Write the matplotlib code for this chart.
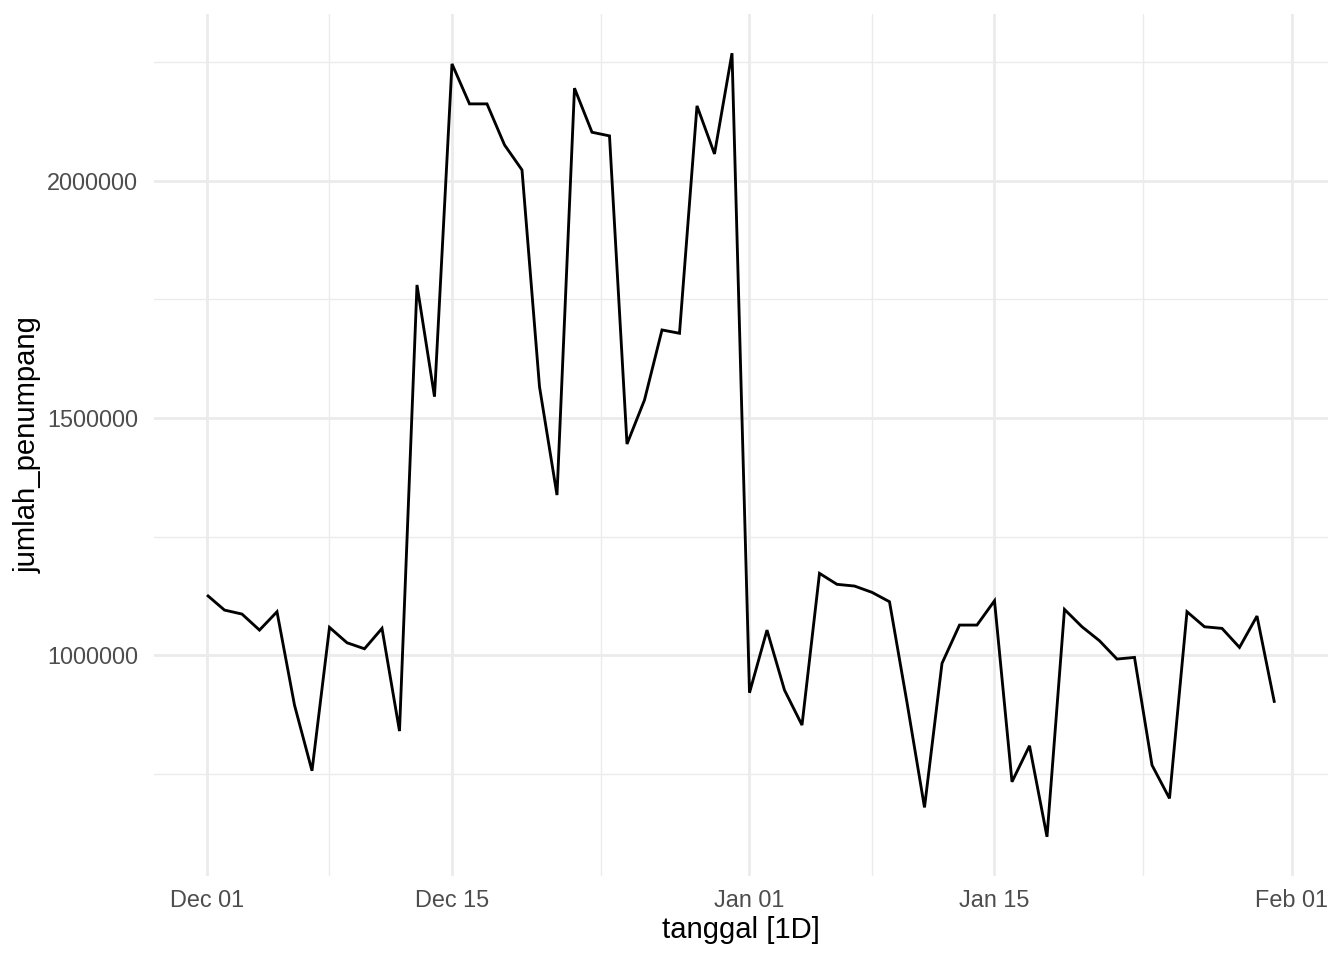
import numpy as np
import matplotlib
matplotlib.use("Agg")
import matplotlib.pyplot as plt
import matplotlib.dates as mdates

plt.rcParams['font.family'] = ['Liberation Sans', 'DejaVu Sans']

start_date = np.datetime64('2022-12-01')
n_days = 62
tanggal = start_date + np.arange(n_days).astype('timedelta64[D]')

jumlah_penumpang = [
    1126600, 1094900, 1086500, 1052700, 1091400, 894500, 756000, 1058400,
    1026000, 1013300, 1056300, 839700, 1780600, 1545000, 2246800, 2162500,
    2162500, 2076000, 2023200, 1566000, 1337500, 2195600, 2102700, 2095000,
    1445100, 1538000, 1685700, 1678700, 2158300, 2057000, 2269400, 920500,
    1052700, 926100, 852300, 1172400, 1149200, 1145600, 1132300, 1112500,
    900000, 678700, 982500, 1063300, 1063300, 1114600, 732700, 808700,
    616700, 1096300, 1059700, 1030200, 991600, 995100, 767900, 697700,
    1091400, 1059700, 1056300, 1016200, 1082300, 899400,
]

x_tick_dates = ['2022-12-01', '2022-12-15', '2023-01-01', '2023-01-15', '2023-02-01']
x_tick_labels = ['Dec 01', 'Dec 15', 'Jan 01', 'Jan 15', 'Feb 01']
y_ticks = [1000000, 1500000, 2000000]
y_tick_labels = ['1000000', '1500000', '2000000']

fig = plt.figure(figsize=(13.44, 9.6), dpi=100)
ax = fig.add_axes([0.1143, 0.0875, 0.988 - 0.1143, 0.9854 - 0.0875])

xd = mdates.date2num(tanggal.astype('datetime64[D]').astype(object))
ax.plot(xd, jumlah_penumpang, color='black', linewidth=2.05, zorder=3,
        solid_joinstyle='miter', solid_capstyle='butt')

# limits with ggplot-like 5% expansion
xmin, xmax = xd.min(), xd.max()
xr = xmax - xmin
ax.set_xlim(xmin - 0.05 * xr, xmax + 0.05 * xr)
ymin, ymax = min(jumlah_penumpang), max(jumlah_penumpang)
yr = ymax - ymin
ax.set_ylim(ymin - 0.05 * yr, ymax + 0.05 * yr)

major_x = mdates.date2num([np.datetime64(d).astype(object) for d in x_tick_dates])
ax.set_xticks(major_x)
ax.set_xticklabels(x_tick_labels)
minor_x = (major_x[:-1] + major_x[1:]) / 2
ax.set_xticks(minor_x, minor=True)

ax.set_yticks(y_ticks)
ax.set_yticklabels(y_tick_labels)
minor_y = [750000, 1250000, 1750000, 2250000]
ax.set_yticks(minor_y, minor=True)

grid_col = '#EBEBEB'
ax.grid(True, which='major', color=grid_col, linewidth=2.0, zorder=0)
ax.grid(True, which='minor', color=grid_col, linewidth=1.0, zorder=0)
ax.set_axisbelow(True)

for s in ax.spines.values():
    s.set_visible(False)

ax.tick_params(axis='both', which='both', length=0)
ax.tick_params(axis='x', which='major', labelsize=16.9, labelcolor='#4D4D4D', pad=9.4)
ax.tick_params(axis='y', which='major', labelsize=16.9, labelcolor='#4D4D4D', pad=11.0)

ax.set_xlabel('tanggal [1D]', fontsize=21.1, color='black', labelpad=3)
ax.set_ylabel('jumlah_penumpang', fontsize=21.1, color='black', labelpad=4.3)

fig.savefig('out.png', dpi=100, facecolor='white')
